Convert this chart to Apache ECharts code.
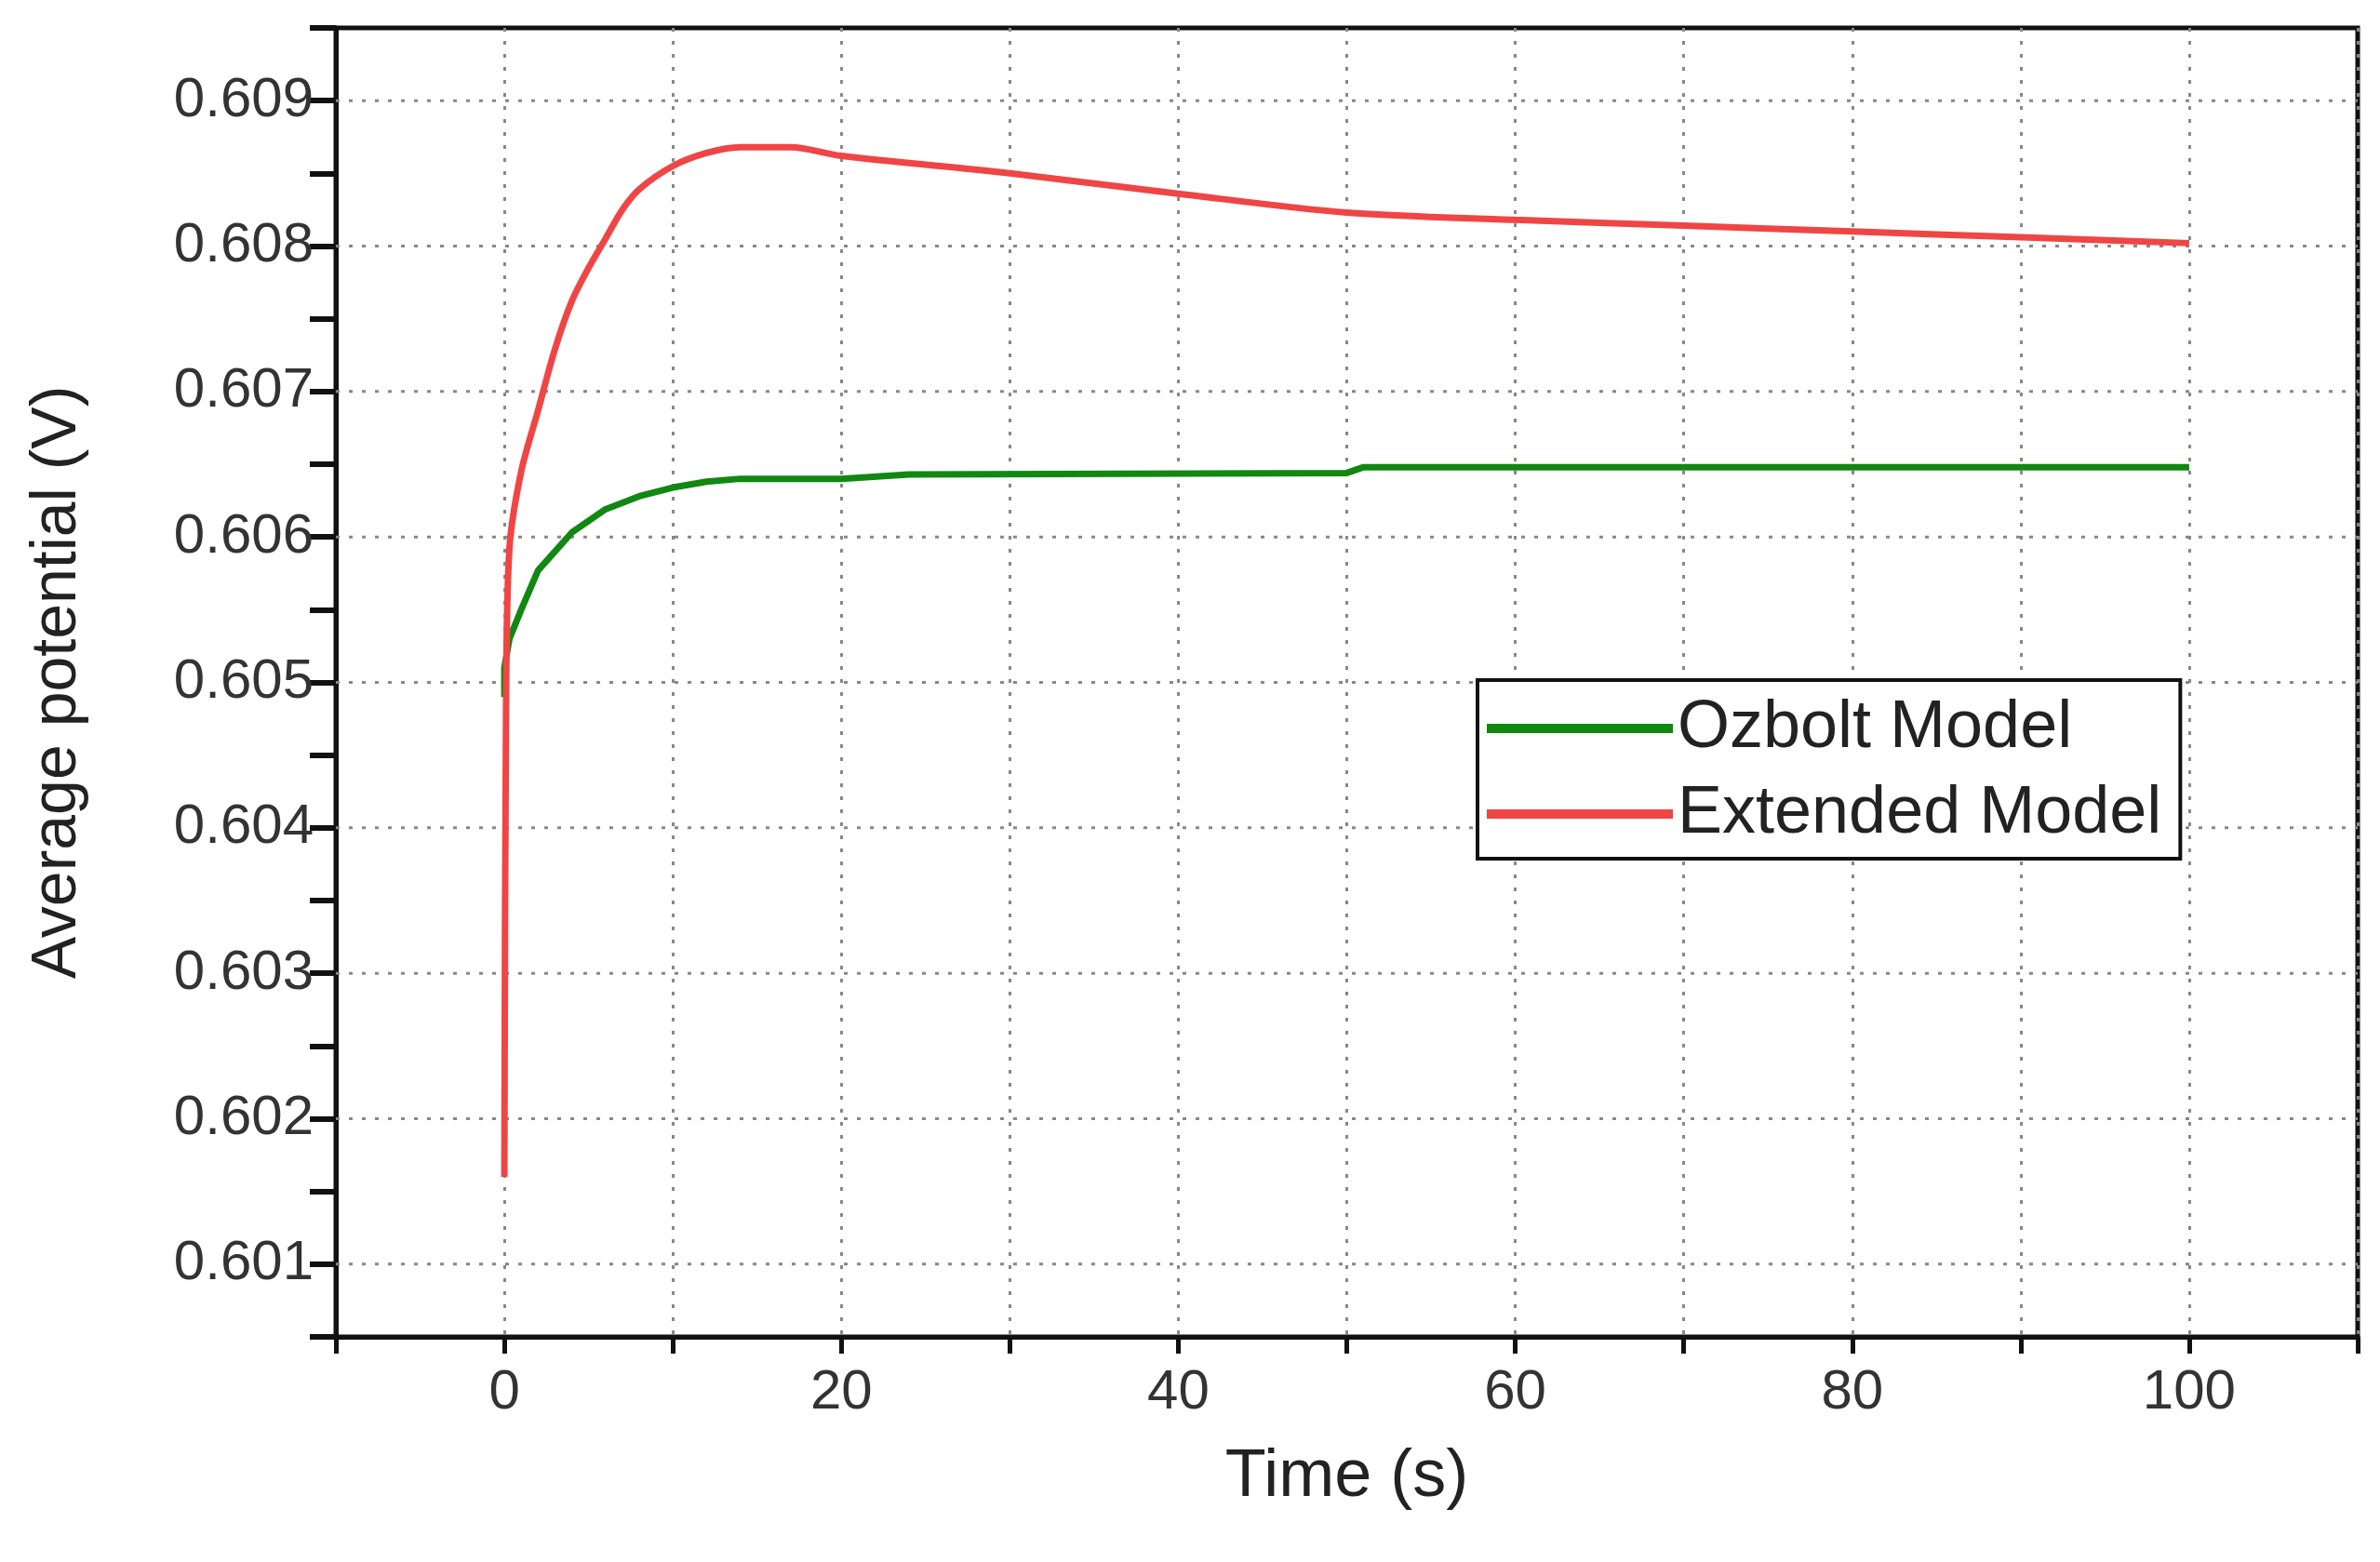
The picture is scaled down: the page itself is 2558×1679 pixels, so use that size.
<!DOCTYPE html>
<html>
<head>
<meta charset="utf-8">
<script src="https://cdn.jsdelivr.net/npm/echarts@6/dist/echarts.min.js"></script>
<style>html,body{margin:0;padding:0;background:#fff}#chart{width:2558px;height:1679px}</style>
</head>
<body>
<div id="chart"></div>
<script>
// data
var ozboltData = [[0,0.6049],[0,0.6051],[0.3,0.6053],[1,0.6055],[2,0.60577],[3,0.6059],[4,0.60603],[6,0.60619],[8,0.60628],[10,0.60634],[12,0.60638],[14,0.6064],[20,0.6064],[24,0.60643],[50,0.60644],[51,0.60648],[70,0.60648],[100,0.60648]];
var extendedData = [[0,0.6016],[0.1,0.6048],[0.3,0.60592],[1,0.60645],[2,0.60687],[3,0.60729],[4,0.60762],[5,0.60785],[6,0.60805],[7,0.60825],[8,0.60839],[10,0.60855],[12,0.60864],[14,0.60868],[17,0.60868],[20,0.60862],[30,0.6085],[40,0.60836],[50,0.60823],[60,0.60818],[70,0.60814],[80,0.6081],[90,0.60806],[100,0.60802]];
var yGridValues = [0.601,0.602,0.603,0.604,0.605,0.606,0.607,0.608,0.609];

var font = 'Liberation Sans, Arial, sans-serif';
var labelFont = {fontFamily:font, fontSize:60, color:'#333'};
var gridStyle = {color:'#888', width:3, type:[4,10]};

var gridSeries = yGridValues.map(function(v){
	return {
		type:'line', data:[[-10,v],[110,v]], showSymbol:false, silent:true,
		lineStyle:gridStyle, z:1
	};
});

var myChart = echarts.init(document.getElementById('chart'));
var option = {
	backgroundColor:'#fff',
	animation:false,
	grid:{left:361, right:24, top:30, bottom:242, show:true, borderColor:'#111', borderWidth:5},
	legend:{
		orient:'vertical', left:1588, top:731,
		padding:[16,20,12,10], itemGap:20,
		borderColor:'#111', borderWidth:4, backgroundColor:'#fff',
		itemWidth:200, itemHeight:10,
		textStyle:{fontFamily:font, fontSize:72, color:'#222'},
		data:[{name:'Ozbolt Model', icon:'rect'},{name:'Extended Model', icon:'rect'}]
	},
	xAxis:{
		type:'value', min:-10, max:110, interval:10,
		name:'Time (s)', nameLocation:'middle', nameGap:115,
		nameTextStyle:{fontFamily:font, fontSize:72, color:'#222'},
		axisLine:{onZero:false, lineStyle:{color:'#111', width:5}},
		axisTick:{length:18, lineStyle:{color:'#111', width:5}},
		axisLabel:Object.assign({margin:30, formatter:function(v){
			return (v >= 0 && v <= 100 && v % 20 === 0) ? String(v) : '';
		}}, labelFont),
		splitLine:{show:true, lineStyle:gridStyle}
	},
	yAxis:{
		type:'value', min:0.6005, max:0.6095, interval:0.0005,
		name:'Average potential (V)', nameLocation:'middle', nameGap:265,
		nameTextStyle:{fontFamily:font, fontSize:68, color:'#222'},
		axisLine:{onZero:false, lineStyle:{color:'#111', width:5}},
		axisTick:{length:28, lineStyle:{color:'#111', width:6}},
		axisLabel:Object.assign({margin:24, formatter:function(v){
			var k = Math.round(v * 2000);
			return (k % 2 === 0) ? v.toFixed(3) : '';
		}}, labelFont),
		splitLine:{show:false}
	},
	series:gridSeries.concat([{
		name:'Ozbolt Model', type:'line', data:ozboltData, showSymbol:false,
		color:'#118811', lineStyle:{width:7}, z:3
	},{
		name:'Extended Model', type:'line', data:extendedData, showSymbol:false, smooth:0.3,
		color:'#f04545', lineStyle:{width:7}, z:3
	}])
};
myChart.setOption(option);
</script>
</body>
</html>
